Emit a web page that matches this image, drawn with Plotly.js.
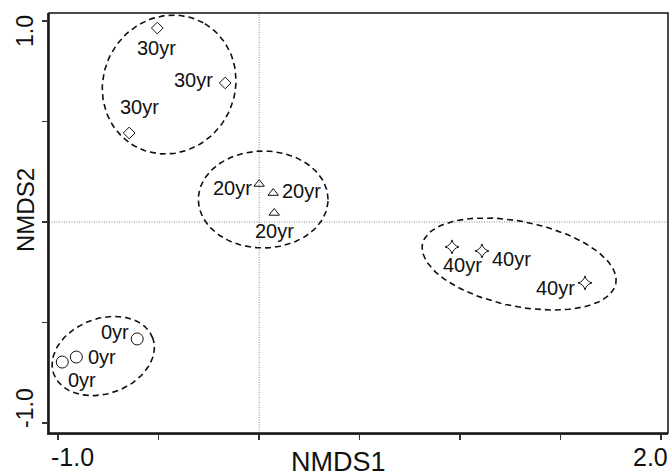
<!DOCTYPE html>
<html>
<head>
<meta charset="utf-8">
<script src="https://cdn.plot.ly/plotly-3.0.1.min.js"></script>
<style>html,body{margin:0;padding:0;background:#fff;}#chart{width:672px;height:476px;}</style>
</head>
<body>
<div id="chart"></div>
<script>
// ---- data (NMDS scores) ----
const groups = ["0yr", "20yr", "30yr", "40yr"];
const x0yr  = [-0.980, -0.910, -0.607];
const y0yr  = [-0.697, -0.672, -0.582];
const x20yr = [0.000, 0.070, 0.075];
const y20yr = [0.189, 0.144, 0.045];
const x30yr = [-0.507, -0.169, -0.647];
const y30yr = [0.965, 0.692, 0.443];
const x40yr = [0.960, 1.109, 1.622];
const y40yr = [-0.124, -0.144, -0.303];
// ellipse parameters per group: centre x, centre y, semi-axis a, semi-axis b, angle (deg)
const ellCx    = [-0.776, 0.020, -0.448, 1.294];
const ellCy    = [-0.667, 0.112, 0.684, -0.209];
const ellA     = [0.262, 0.323, 0.351, 0.491];
const ellB     = [0.187, 0.241, 0.327, 0.211];
const ellAngle = [20, 0, 61, -11.6];
// axis ticks
const xTickVals = [-1, -0.5, 0, 0.5, 1, 1.5, 2];
const yTickVals = [-1, -0.5, 0, 0.5, 1];
const xTickLabels = ["-1.0", "2.0"];
const xTickLabelVals = [-1, 2];
const yTickLabels = ["-1.0", "1.0"];
const yTickLabelVals = [-1, 1];

// ---- styles ----
const xs = [x0yr, x20yr, x30yr, x40yr];
const ys = [y0yr, y20yr, y30yr, y40yr];
const symbols = ["circle-open", "triangle-up-open", "diamond-open", "star-diamond-open"];
const sizes = [12, 9, 9, 10];
// label offsets in pixels (dx right, dy down) for each point
const labelOffsets = [
  [[20, 18], [26, 0], [-22, -7]],
  [[-27, 4], [28, -2], [0, 18]],
  [[-1, 20], [-32, -3], [10, -26]],
  [[10, 18], [30, 8], [-30, 5]]
];
const ink = "#111";
const font = "Liberation Sans, Arial, sans-serif";

const traces = [];
groups.forEach((g, i) => {
  // ellipse
  const ex = [], ey = [];
  const th = ellAngle[i] * Math.PI / 180;
  for (let k = 0; k <= 120; k++) {
    const t = 2 * Math.PI * k / 120;
    const u = ellA[i] * Math.cos(t), v = ellB[i] * Math.sin(t);
    ex.push(ellCx[i] + u * Math.cos(th) - v * Math.sin(th));
    ey.push(ellCy[i] + u * Math.sin(th) + v * Math.cos(th));
  }
  traces.push({
    x: ex, y: ey, type: "scatter", mode: "lines", hoverinfo: "skip",
    line: {color: ink, width: 1.6, dash: "6px,4px"}, showlegend: false
  });
  traces.push({
    x: xs[i], y: ys[i], type: "scatter", mode: "markers", name: g,
    marker: {symbol: symbols[i], size: sizes[i], color: ink, line: {width: 1, color: ink}},
    showlegend: false
  });
});

const annotations = [];
groups.forEach((g, i) => {
  xs[i].forEach((xv, j) => {
    annotations.push({
      x: xv, y: ys[i][j], xref: "x", yref: "y", text: g, showarrow: false,
      xanchor: "center", yanchor: "middle",
      xshift: labelOffsets[i][j][0], yshift: -labelOffsets[i][j][1],
      font: {family: font, size: 20, color: ink}
    });
  });
});
// tick labels
const xLabShift = [14, -10];
xTickLabels.forEach((t, i) => {
  annotations.push({
    x: xTickLabelVals[i], xref: "x", y: 0, yref: "paper", text: t, showarrow: false,
    xanchor: "center", yanchor: "middle", xshift: xLabShift[i], yshift: -24,
    font: {family: font, size: 25, color: ink}
  });
});
const yLabShift = [15, -10];
yTickLabels.forEach((t, i) => {
  annotations.push({
    x: 0, xref: "paper", y: yTickLabelVals[i], yref: "y", text: t, showarrow: false,
    textangle: -90, xanchor: "center", yanchor: "middle", xshift: -24, yshift: yLabShift[i],
    font: {family: font, size: 23, color: ink}
  });
});
// axis titles
annotations.push({
  x: 0.5, xref: "paper", y: 0, yref: "paper", text: "NMDS1", showarrow: false,
  xanchor: "center", yanchor: "middle", xshift: -20, yshift: -29,
  font: {family: font, size: 27, color: ink}
});
annotations.push({
  x: 0, xref: "paper", y: 0.5, yref: "paper", text: "NMDS2", showarrow: false,
  textangle: -90, xanchor: "center", yanchor: "middle", xshift: -24, yshift: 13,
  font: {family: font, size: 24, color: ink}
});

const layout = {
  width: 672, height: 476,
  margin: {l: 49, r: 4, t: 13, b: 43},
  paper_bgcolor: "#fff", plot_bgcolor: "#fff",
  hovermode: false,
  xaxis: {
    range: [-1.046, 2.035], tickvals: xTickVals, showticklabels: false,
    ticks: "outside", ticklen: 5, tickwidth: 1.5, tickcolor: "#333",
    showline: true, linewidth: 2, linecolor: "#333",
    showgrid: false, zeroline: false
  },
  yaxis: {
    range: [-1.05, 1.04], tickvals: yTickVals, showticklabels: false,
    ticks: "outside", ticklen: 5, tickwidth: 1.5, tickcolor: "#333",
    showline: true, linewidth: 2, linecolor: "#333",
    showgrid: false, zeroline: false
  },
  shapes: [
    {type: "line", xref: "x", yref: "paper", x0: 0, x1: 0, y0: 0, y1: 1,
     line: {color: "#888", width: 1, dash: "1px,1.5px"}, layer: "below"},
    {type: "line", xref: "paper", yref: "y", x0: 0, x1: 1, y0: 0, y1: 0,
     line: {color: "#888", width: 1, dash: "1px,1.5px"}, layer: "below"},
    {type: "rect", xref: "paper", yref: "paper", x0: 0, x1: 1, y0: 0, y1: 1,
     line: {color: "#111", width: 1.5}}
  ],
  annotations: annotations,
  showlegend: false
};

Plotly.newPlot("chart", traces, layout, {displayModeBar: false, staticPlot: true});
</script>
</body>
</html>
